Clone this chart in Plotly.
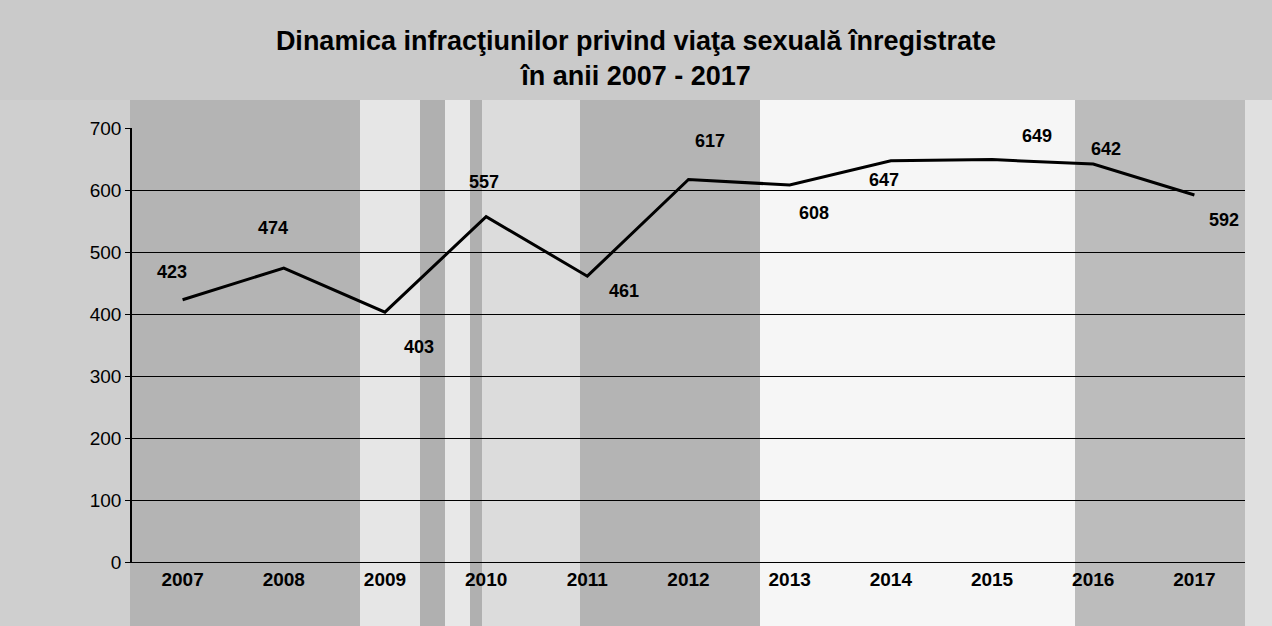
import plotly.graph_objects as go

years = ["2007", "2008", "2009", "2010", "2011", "2012", "2013", "2014", "2015", "2016", "2017"]
values = [423, 474, 403, 557, 461, 617, 608, 647, 649, 642, 592]
y_ticks = [0, 100, 200, 300, 400, 500, 600, 700]

title_line1 = "Dinamica infracţiunilor privind viaţa sexuală înregistrate"
title_line2 = "în anii 2007 - 2017"

W, H = 1272, 626
L, R, T, B = 132, 27, 128, 64
PW, PH = W - L - R, H - T - B

def px_x(px):
    return (px - L) / PW

def px_y(py):
    return (H - B - py) / PH

# label offsets (pixels) relative to each point
label_dx = [-11, -11, 34, -2, 37, 21, 24, -7, 45, 13, 30]
label_dy = [-28, -40, 35, -35, 15, -38, 28, 19, -24, -15, 25]

FONT = "Liberation Sans, Arial, sans-serif"

fig = go.Figure()
fig.add_trace(go.Scatter(
    x=years, y=values, mode="lines",
    line=dict(color="black", width=3),
    hoverinfo="x+y", showlegend=False,
))

for i, (v, dx, dy) in enumerate(zip(values, label_dx, label_dy)):
    fig.add_annotation(
        x=i, y=v, xref="x", yref="y", text=f"<b>{v}</b>", showarrow=False,
        xshift=dx, yshift=-dy,
        font=dict(family=FONT, size=18, color="black"),
    )

# scan-like grey background bands (page decoration)
bands = [
    (0, 130, "#cfcfcf"), (130, 360, "#b4b4b4"), (360, 420, "#e6e6e6"),
    (420, 445, "#b0b0b0"), (445, 470, "#e8e8e8"), (470, 482, "#b0b0b0"),
    (482, 580, "#dcdcdc"), (580, 760, "#b4b4b4"), (760, 1075, "#f6f6f6"),
    (1075, 1245, "#bcbcbc"), (1245, 1272, "#e0e0e0"),
]
shapes = []
for x0, x1, col in bands:
    shapes.append(dict(type="rect", xref="paper", yref="paper",
                       x0=px_x(x0), x1=px_x(x1), y0=px_y(H), y1=px_y(100),
                       fillcolor=col, line=dict(width=0), layer="below"))
shapes.append(dict(type="rect", xref="paper", yref="paper",
                   x0=px_x(0), x1=px_x(W), y0=px_y(100), y1=px_y(0),
                   fillcolor="#cacaca", line=dict(width=0), layer="below"))

fig.update_layout(
    width=W, height=H,
    margin=dict(l=L, r=R, t=T, b=B),
    paper_bgcolor="white", plot_bgcolor="rgba(0,0,0,0)",
    shapes=shapes,
    title=dict(
        text=f"<b>{title_line1}<br>{title_line2}</b>",
        x=0.5, xanchor="center", y=0.92, yanchor="middle",
        font=dict(family=FONT, size=27, color="black"),
    ),
    xaxis=dict(
        type="category", range=[-0.5, 10.5],
        showgrid=False, showline=True, linecolor="black", linewidth=1,
        ticks="", tickfont=dict(family=FONT, size=19, color="black"),
        tickprefix="<b>", ticksuffix="</b>",
    ),
    yaxis=dict(
        range=[0, 700], tickvals=y_ticks,
        showgrid=True, gridcolor="black", gridwidth=1,
        showline=True, linecolor="black", linewidth=1.5,
        zeroline=False, ticks="outside", ticklen=5, tickcolor="black",
        tickfont=dict(family=FONT, size=19, color="black"),
        tickprefix="<b>", ticksuffix="</b>",
    ),
)

fig.write_html("out.html", config={"displayModeBar": False},
               post_script="document.body.style.margin='0';")
